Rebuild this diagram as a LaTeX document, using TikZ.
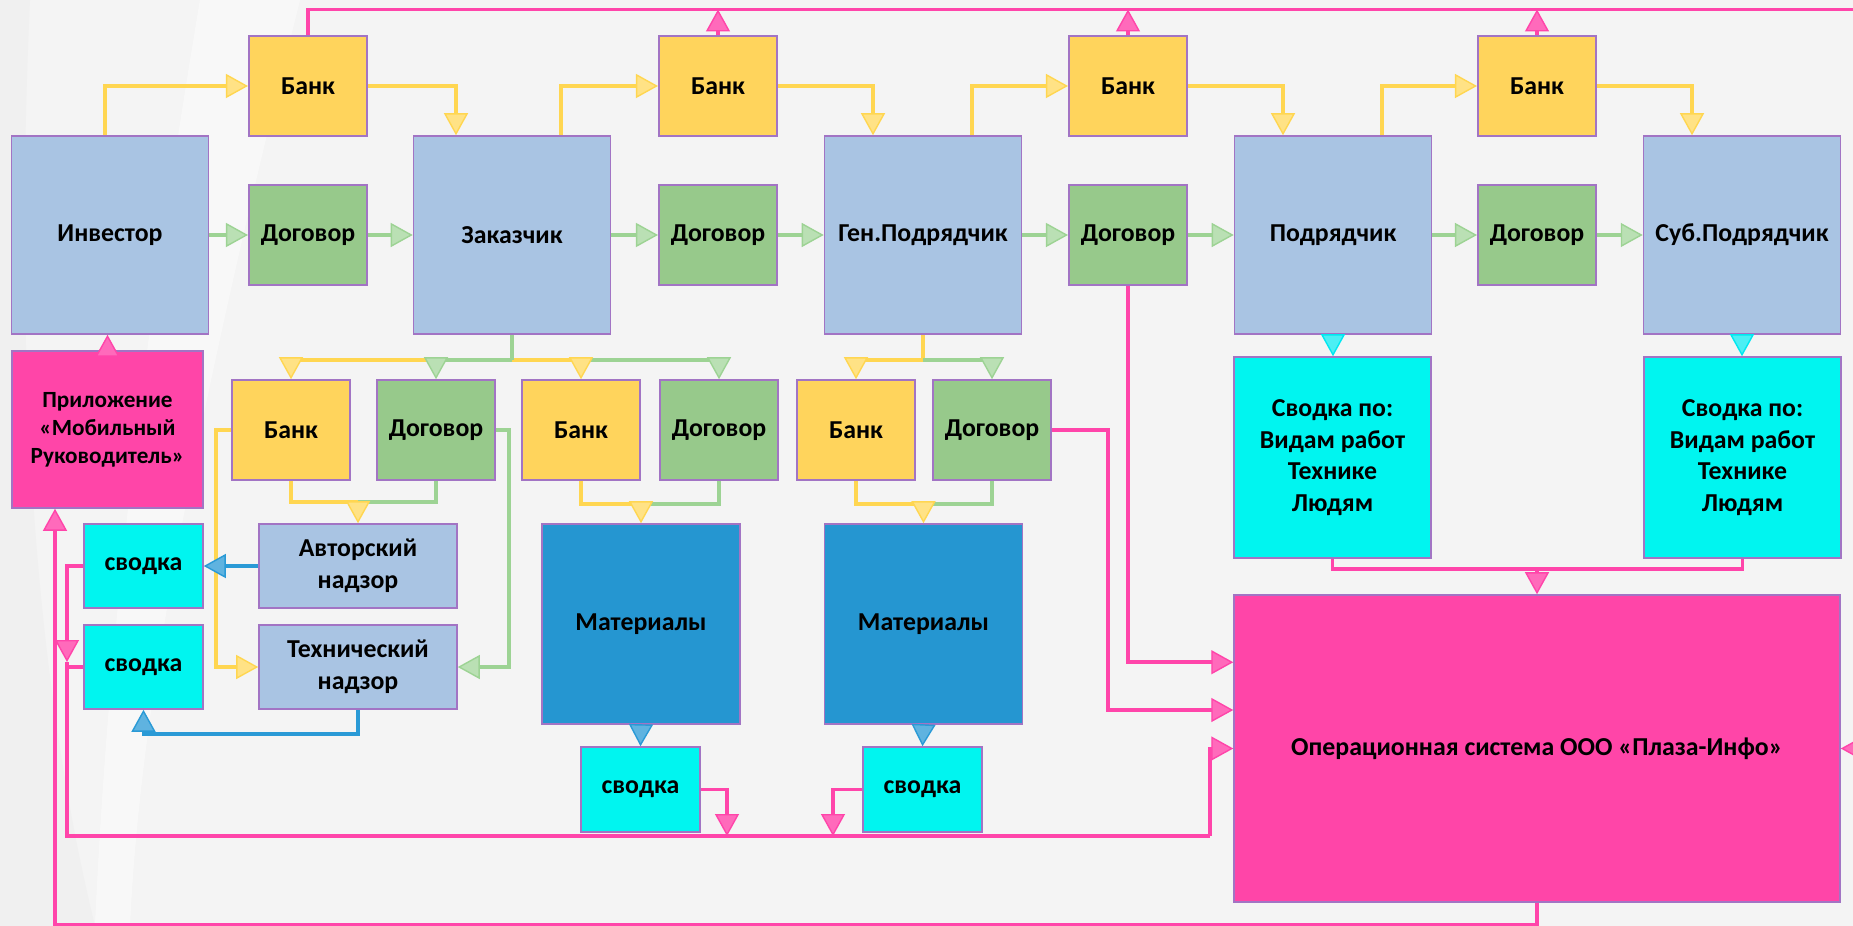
\documentclass[tikz,border=0pt]{standalone}
\usepackage{fontspec}
\setmainfont{Carlito}
\usepackage{tikz}
\usetikzlibrary{arrows.meta,calc,positioning}

\definecolor{bgcol}{HTML}{F4F4F4}
\definecolor{edgecol}{HTML}{A274C4}
\definecolor{bankfill}{HTML}{FFD45C}
\definecolor{dealfill}{HTML}{97C98B}
\definecolor{partyfill}{HTML}{A9C4E3}
\definecolor{hubfill}{HTML}{FF45A8}
\definecolor{sumfill}{HTML}{00F5F0}
\definecolor{matfill}{HTML}{2596D1}
\definecolor{yline}{HTML}{FFD651}
\definecolor{gline}{HTML}{9DD394}
\definecolor{pline}{HTML}{FF45AA}
\definecolor{bline}{HTML}{2A9AD6}
\definecolor{cline}{HTML}{00E8F0}

\tikzstyle{box} = [draw=edgecol, line width=0.9pt, align=center, inner sep=2pt,
  font=\bfseries\fontsize{14.7}{18}\selectfont]
\tikzstyle{bank} = [box, fill=bankfill, minimum width=2.37cm, minimum height=2cm]
\tikzstyle{deal} = [box, fill=dealfill, minimum width=2.37cm, minimum height=2cm]
\tikzstyle{party} = [box, fill=partyfill, minimum width=3.94cm, minimum height=3.96cm]
\tikzstyle{hub} = [box, fill=hubfill]
\tikzstyle{summary} = [box, fill=sumfill]
\tikzstyle{supply} = [box, fill=matfill, minimum width=3.96cm, minimum height=4cm]
\tikzstyle{watch} = [box, fill=partyfill, minimum width=3.96cm, minimum height=1.68cm]

\tikzset{
  yl/.style={draw=yline, line width=2.2pt},
  gl/.style={draw=gline, line width=2.2pt},
  pl/.style={draw=pline, line width=2.2pt},
  bl/.style={draw=bline, line width=2.2pt},
  cl/.style={draw=cline, line width=2.2pt},
  tip/.style={-{Triangle[length=0.44cm,width=0.48cm,line width=0.8pt,fill=#1]}},
  ya/.style={yl, tip=yline!70!white},
  ga/.style={gl, tip=gline!70!white},
  pa/.style={pl, tip=pline!80!white},
  ba/.style={bl, tip=bline!75!white},
  ca/.style={cl, tip=cline!70!white}
}

\begin{document}
\begin{tikzpicture}[x=0.02cm, y=-0.02cm]
  \useasboundingbox (0,0) rectangle (1853,926);
  \fill[bgcol] (0,0) rectangle (1853,926);
  \fill[gray!12] (0,0) -- (30,0) .. controls (12,400) and (40,700) .. (95,926) -- (0,926) -- cycle;
  \fill[white, opacity=0.45] (200,0) -- (300,0) .. controls (200,400) and (140,700) .. (130,926) -- (95,926) .. controls (110,600) and (150,300) .. (200,0) -- cycle;

  \node[party] (inv) at (110,235) {Инвестор};
  \node[bank] (bank1) at (308,86) {Банк};
  \node[deal] (deal1) at (308,235) {Договор};
  \node[party] (zak) at (512,235) {Заказчик};
  \node[bank] (bank2) at (718,86) {Банк};
  \node[deal] (deal2) at (718,235) {Договор};
  \node[party] (gen) at (923,235) {Ген.Подрядчик};
  \node[bank] (bank3) at (1128,86) {Банк};
  \node[deal] (deal3) at (1128,235) {Договор};
  \node[party] (podr) at (1333,235) {Подрядчик};
  \node[bank] (bank4) at (1537,86) {Банк};
  \node[deal] (deal4) at (1537,235) {Договор};
  \node[party] (sub) at (1742,235) {Суб.Подрядчик};

  \node[bank] (bank5) at (291,430) {Банк};
  \node[deal] (deal5) at (436,430) {Договор};
  \node[bank] (bank6) at (581,430) {Банк};
  \node[deal] (deal6) at (719,430) {Договор};
  \node[bank] (bank7) at (856,430) {Банк};
  \node[deal] (deal7) at (992,430) {Договор};

  \node[hub, minimum width=3.82cm, minimum height=3.14cm,
    font=\bfseries\fontsize{13.2}{16}\selectfont] (app) at (107.5,429.5)
    {Приложение\\«Мобильный\\Руководитель»};
  \node[summary, minimum width=2.38cm, minimum height=1.68cm] (sumA) at (143.5,566) {сводка};
  \node[summary, minimum width=2.38cm, minimum height=1.68cm] (sumB) at (143.5,667) {сводка};
  \node[watch] (author) at (358,566) {Авторский\\надзор};
  \node[watch] (tech) at (358,667) {Технический\\надзор};
  \node[supply] (mat1) at (641,624) {Материалы};
  \node[supply] (mat2) at (923.5,624) {Материалы};
  \node[summary, minimum width=2.38cm, minimum height=1.7cm] (sumC) at (640.5,789.5) {сводка};
  \node[summary, minimum width=2.38cm, minimum height=1.7cm] (sumD) at (922.5,789.5) {сводка};
  \node[summary, minimum width=3.94cm, minimum height=4.02cm] (digA) at (1332.5,457.5)
    {Сводка по:\\Видам работ\\Технике\\Людям};
  \node[summary, minimum width=3.94cm, minimum height=4.02cm] (digB) at (1742.5,457.5)
    {Сводка по:\\Видам работ\\Технике\\Людям};
  \node[hub, minimum width=12.12cm, minimum height=6.14cm] (os) at (1537,748.5)
    {Операционная система ООО «Плаза-Инфо»};

  \coordinate (tr) at (1862,9.5);
  \coordinate (zj) at ($(zak.south)+(0,25.5)$);
  \coordinate (gj) at ($(gen.south)+(0,25.5)$);
  \coordinate (aj) at ($(author.north)+(0,-21)$);
  \coordinate (m1) at ($(mat1.north)+(0,-19)$);
  \coordinate (m2) at ($(mat2.north)+(0,-19)$);
  \coordinate (oj) at ($(os.north)+(0,-25)$);
  \coordinate (dk) at (1108,710);
  \coordinate (lm) at (67,662);
  \coordinate (lb) at (1210,836);
  \coordinate (cdrop) at (727,836);
  \coordinate (ddrop) at (833,836);
  \coordinate (lo) at (55,925);

  \path[pa] (bank1.north) |- (tr) |- (os.east);
  \foreach \b in {bank2,bank3,bank4}
    \path[pa] (\b.north) -- (\b.north |- tr);

  \path[ya] ($(inv.north)+(-5,0)$) |- (bank1.west);
  \path[ya] (bank1.east) -| ($(zak.north)+(-56,0)$);
  \foreach \p/\b/\n in {zak/bank2/gen, gen/bank3/podr, podr/bank4/sub} {
    \path[ya] ($(\p.north)+(49,0)$) |- (\b.west);
    \path[ya] (\b.east) -| ($(\n.north)+(-50,0)$);
  }

  \foreach \a/\b in {inv/deal1, deal1/zak, zak/deal2, deal2/gen, gen/deal3, deal3/podr, podr/deal4, deal4/sub}
    \path[ga] (\a.east) -- (\b.west);

  \path[ga] (zj) -| (deal6.north);
  \path[ya] (zj) -| (bank6.north);
  \path[ya] (zj) -| (bank5.north);
  \path[ga] (zj) -| (deal5.north);
  \path[gl] (zak.south) -- (zj);
  \path[yl] (gen.south) -- (gj);
  \path[ya] (gj) -| (bank7.north);
  \path[ga] (gj) -| (deal7.north);

  \path[gl] (deal5.south) |- (aj);
  \path[ya] (bank5.south) |- (aj) -- (author.north);
  \path[gl] (deal6.south) |- (m1);
  \path[ya] (bank6.south) |- (m1) -- (mat1.north);
  \path[gl] (deal7.south) |- (m2);
  \path[ya] (bank7.south) |- (m2) -- (mat2.north);

  \path[ya] (bank5.west) -| ($(tech.west)+(-42,0)$) -- (tech.west);
  \path[ga] (deal5.east) -| ($(tech.east)+(51,0)$) -- (tech.east);

  \path[ba] (author.west) -- (sumA.east);
  \path[ba] (tech.south) |- ($(sumB.south)+(0,24)$) -- (sumB.south);
  \path[ba] (mat1.south) -- (sumC.north);
  \path[ba] (mat2.south) -- (sumD.north);

  \path[ca] (podr.south) -- (podr.south |- digA.north);
  \path[ca] (sub.south) -- (sub.south |- digB.north);

  \path[pl] (digA.south) |- (oj);
  \path[pl] (digB.south) |- (oj);
  \path[pa] (oj) -- (os.north);

  \path[pa] (deal3.south) |- ($(os.north west)+(0,68)$);
  \path[pa] (deal7.east) -| (dk) -- (os.west |- dk);

  \path[pa] (sumA.west) -| (lm);
  \path[pl] (lm) |- (lb);
  \path[pa] (lb) |- (os.west);
  \path[pl] (sumB.west) -- (sumB.west -| lm);
  \path[pa] (sumC.east) -| (cdrop);
  \path[pa] (sumD.west) -| (ddrop);

  \path[pa] (os.south) |- (lo) -- (lo |- app.south);
  \path[pa] (app.north) -- (app.north |- inv.south);
\end{tikzpicture}
\end{document}
